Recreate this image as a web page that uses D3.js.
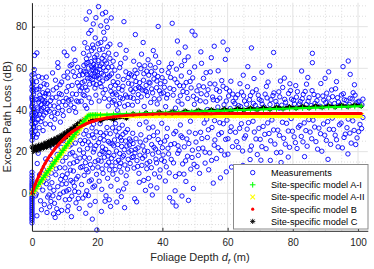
<!DOCTYPE html>
<html>
<head>
<meta charset="utf-8">
<script src="https://cdn.jsdelivr.net/npm/d3@7"></script>
<style>
  body { margin: 0; background: #fff; }
  svg { display: block; font-family: "Liberation Sans", Arial, sans-serif; }
</style>
</head>
<body>
<svg></svg>
<script>
// Messwerte [Foliage Depth (m), Excess Path Loss (dB)], aus dem Bild geschaetzt
const measurements = [
  [0,-14.2],[0,-13],[0,-12.1],[0,-11.3],[0,-10.2],[0,-9.4],[0,-8.5],[0,-7.6],[0,-6.8],[0,-5.9],[0,-5],[0,-4.1],[0,-3.2],
  [0,-2.4],[0,-1.5],[0,-0.6],[0,0.3],[0,1.2],[0,2.1],[0,3],[0,3.9],[0,4.8],[0,5.9],[0,7.2],[0,8.6],[0,10.1],
  [0,25.5],[0.3,28.1],[0,30.4],[0.5,32.2],[0,34.8],[0.2,36.1],[0,38.5],[0.4,40.2],[0,42.1],[0.1,44.6],[0,46.3],[0.3,48.8],
  [0,51.2],[0.2,53.5],[0,56.8],[0.6,57.3],[0.8,66.2],[1.5,67.4],[1.2,45.1],[1.6,41.3],[1.1,38.2],[2.1,43.7],[2.4,47.2],
  [2.8,39.6],[1.9,35.4],[3.2,44.8],[3.5,41.2],[2.6,51.3],[1.4,49.8],[3.9,46.5],[4.3,38.7],[4.6,43.1],[3.1,36.2],[2.2,31.5],
  [1.7,28.4],[3.4,30.1],[4.1,33.3],[4.8,49.2],[0.9,33.6],[1.3,26.9],[2.7,34.4],[3.7,52.6],[4.4,55.8],[2.0,56.1],[0.7,37.1],
  [1.8,40.5],[2.9,42.6],[4.0,44.2],[3.3,48.3],[0.4,50.1],
  [0.2,27.3],[0,29.1],[0.5,31.4],[0,33.2],[0.3,35.6],[0,37.4],[0.6,39.1],[0,41.3],[0.2,43.2],[0,45.4],[0.5,47.6],[0,49.5],
  [0.3,52.3],[0,54.4],[1.0,29.8],[1.2,34.1],[1.5,37.6],[1.8,44.9],[2.3,37.9],[2.5,45.6],[3.0,40.4],[3.6,37.5],[3.8,43.4],
  [4.2,47.8],[4.7,40.2],[2.1,50.1],[1.4,53.6],[3.1,55.4],[4.5,52.1],[0.7,59.4],
  [1.1,-1.2],[1.3,-0.3],[1.5,-10.8],[2.2,3.1],[2.6,-3.6],[3.3,1.5],[3.8,-5.4],[4.4,4.6],[1.6,14.3],[2.3,8.8],[3.6,11.2],
  [4.2,16.5],[4.8,-1.8],[4.9,7.3],[1.9,19.2],
  [5.2,-0.8],[5.5,2.6],[5.8,-3.9],[6.1,5.1],[6.4,-1.2],[6.7,1.4],[7.1,-11.6],[7.3,8.9],[7.6,-7.4],[7.9,3.2],[8.2,-2.1],
  [8.5,12.3],[8.8,6.7],[9.1,-8.2],[9.4,15.4],[9.7,0.6],[5.4,-6.5],[6.2,13.8],[7.7,18.6],[8.9,22.1],[9.6,25.3],[6.9,-4.8],
  [8.1,-9.3],[9.2,4.4],[5.9,9.7],
  [2.9,-7.9],[3.5,5.6],[4.6,-9.2],[5.7,16.3],[6.6,-9.9],[7.4,11.7],[8.6,-0.4],[9.3,8.5],[10.6,1.1],[11.5,-2.9],[12.8,14.6],
  [13.6,6.9],[14.2,-2.5],[14.7,16.9],[10.3,7.4],[11.7,18.9],[13.1,0.9],[12.0,23.4],[9.0,19.8],[6.3,21.7],
  [5.3,39.4],[5.7,44.5],[6.0,36.8],[6.5,49.6],[6.8,41.9],[7.2,54.3],[7.4,46.1],[7.8,38.3],[8.3,43.7],[8.6,52.1],[9.0,47.4],
  [9.3,39.8],[9.8,56.2],[5.6,33.1],[6.6,31.4],[7.0,35.6],[8.0,60.4],[8.7,34.2],[9.5,44.1],[6.3,57.8],[5.1,47.7],
  [5.5,42.1],[6.2,45.8],[6.9,38.9],[7.5,50.7],[8.1,41.2],[8.4,47.9],[9.1,53.4],[9.6,37.3],[10.5,45.6],[11.1,51.3],
  [11.9,42.4],[12.4,47.7],[13.1,56.1],[13.7,44.3],[14.4,51.5],[14.9,58.9],[12.2,61.8],[10.9,58.2],[7.9,62.7],[9.9,67.8],
  [10.2,-3.1],[10.5,4.6],[10.8,9.3],[11.1,-6.2],[11.3,1.8],[11.6,14.1],[11.9,6.2],[12.2,-1.4],[12.4,19.6],[12.7,10.7],
  [13.0,3.4],[13.3,24.1],[13.5,-4.6],[13.8,15.3],[14.1,8.1],[14.3,0.5],[14.6,20.8],[14.9,12.4],[10.4,17.2],[11.4,22.6],
  [12.9,27.3],[13.9,28.8],[10.9,-8.4],[12.1,-11.2],[14.5,-7.3],[11.8,11.1],[13.2,17.9],[14.8,25.4],[10.1,12.2],[12.5,5.3],
  [10.3,42.3],[10.6,48.9],[11.0,55.4],[11.4,39.7],[11.7,61.2],[12.0,45.1],[12.3,51.8],[12.6,58.4],[12.9,41.2],[13.2,63.8],
  [13.6,47.5],[13.9,53.1],[14.2,43.9],[14.5,56.6],[14.8,49.3],[10.7,66.1],[12.8,69.3],[14.0,60.5],[11.2,44.7],[13.4,38.9],
  [15.1,44.2],[15.3,50.6],[15.5,56.9],[15.7,47.3],[15.9,61.4],[16.1,53.8],[16.3,42.1],[16.5,58.2],[16.7,64.6],[16.9,49.5],
  [17.1,55.3],[17.3,60.1],[17.5,45.8],[17.7,52.4],[17.9,57.7],[18.1,63.2],[18.3,68.5],[18.5,54.6],[18.7,59.3],[18.9,61.8],
  [19.1,56.1],[19.3,63.9],[19.5,58.7],[19.7,52.2],[19.9,66.4],[16.2,72.3],[17.4,76.8],[18.6,71.2],[19.4,74.6],[17.6,87.1],
  [16.8,40.8],[18.2,43.6],[19.6,47.1],[15.8,67.2],[18.8,81.3],[17.0,69.8],[19.0,60.2],[18.4,57.1],[16.6,62.3],[19.8,55.9],
  [15.4,53.2],[15.9,58.6],[16.4,50.9],[16.9,57.1],[17.2,62.8],[17.8,55.1],[18.3,60.7],[18.8,52.9],[19.2,65.3],[19.7,61.2],
  [20.2,56.6],[20.8,59.4],[21.4,62.1],[21.9,56.8],[22.4,63.6],[22.9,55.1],[23.4,60.4],[23.9,64.8],[24.4,57.3],[24.9,53.6],
  [17.5,66.3],[18.9,69.7],[20.3,71.8],[21.7,69.2],[23.2,70.4],[16.1,46.9],[19.3,50.5],[22.2,45.6],[24.2,48.9],[20.9,52.8],
  [18.1,78.2],[19.6,84.3],[22.6,86.9],[16.6,83.6],[21.1,80.4],
  [15.2,4.2],[15.4,12.8],[15.6,-2.3],[15.8,19.4],[16.0,8.6],[16.2,25.3],[16.4,14.7],[16.6,30.1],[16.8,1.2],[17.0,21.5],
  [17.2,10.3],[17.4,27.6],[17.6,16.9],[17.8,-5.7],[18.0,23.2],[18.2,6.4],[18.4,31.4],[18.6,12.1],[18.8,19.8],[19.0,26.7],
  [19.2,3.5],[19.4,15.2],[19.6,22.9],[19.8,9.1],[16.5,-9.6],[18.5,-12.4],[19.9,-17.6],[17.3,-1.1],[15.9,28.4],[18.9,33.2],
  [15.5,23.8],[16.1,17.3],[16.7,11.4],[17.3,24.6],[17.9,13.8],[18.5,28.1],[19.1,21.2],[19.7,29.5],[20.3,15.9],[20.9,26.3],
  [21.5,11.7],[22.1,19.8],[22.7,28.9],[23.3,17.9],[23.9,24.1],[24.5,13.2],[25.1,22.8],[25.7,14.9],[26.3,27.6],[26.9,12.8],
  [27.5,25.4],[28.1,18.1],[28.7,29.3],[29.3,11.6],[29.9,23.2],[16.4,-0.8],[18.7,2.9],[21.3,-8.7],[23.7,-3.1],[26.5,1.1],
  [28.4,-6.9],[19.4,-3.9],[24.7,31.4],[27.7,32.7],[17.6,5.8],
  [20.1,58.3],[20.3,63.7],[20.5,55.2],[20.7,68.9],[20.9,61.1],[21.1,72.4],[21.3,57.6],[21.5,64.8],[21.7,53.9],[21.9,60.3],
  [22.1,66.2],[22.3,74.1],[22.5,49.8],[22.7,58.9],[22.9,62.5],[23.1,79.6],[23.3,55.7],[23.5,67.3],[23.7,45.2],[23.9,71.6],
  [24.1,51.3],[24.3,84.2],[24.5,60.8],[24.7,47.6],[24.9,63.4],[20.4,89.6],[21.6,86.1],[22.8,82.7],[20.6,44.3],[21.8,48.1],
  [23.4,41.9],[24.6,43.7],[22.0,77.3],[21.2,51.2],[23.8,56.4],
  [20.2,12.6],[20.4,24.3],[20.6,5.8],[20.8,18.7],[21.0,29.1],[21.2,15.4],[21.4,1.9],[21.6,22.2],[21.8,9.6],[22.0,27.8],
  [22.2,17.3],[22.4,-3.8],[22.6,21.1],[22.8,13.5],[23.0,31.6],[23.2,7.2],[23.4,24.9],[23.6,19.6],[23.8,11.3],[24.0,28.6],
  [24.2,3.4],[24.4,16.8],[24.6,23.7],[24.8,9.2],[20.9,33.4],[22.7,-1.2],[24.1,-6.3],[21.5,20.1],[23.5,14.9],[22.1,25.5],
  [25.2,44.6],[25.6,51.9],[26.0,47.3],[26.4,56.2],[26.8,43.1],[27.2,62.4],[27.6,49.5],[28.0,54.7],[28.4,41.8],[28.8,58.3],
  [29.2,46.2],[29.6,52.8],[25.8,66.7],[27.0,71.3],[28.6,64.9],[29.9,57.4],[26.2,39.9],[27.8,45.4],[29.4,42.6],[25.4,59.1],
  [28.2,82.4],[26.6,50.3],
  [25.5,48.2],[26.3,53.1],[27.1,45.9],[27.9,51.4],[28.7,47.2],[29.5,55.6],[30.3,49.8],[31.1,45.6],[31.9,53.7],[32.7,50.9],
  [33.5,46.3],[34.3,57.4],[35.1,48.8],[35.9,53.3],[36.7,50.1],[37.5,45.4],[38.3,53.9],[39.1,49.2],[39.9,55.5],[30.5,56.8],
  [32.9,61.7],[34.7,49.3],[36.3,61.5],[38.9,62.8],[26.9,60.3],[28.9,68.6],[34.1,72.4],[31.7,76.2],[37.9,65.9],[25.9,42.4],
  [25.1,18.2],[25.3,25.6],[25.5,11.4],[25.7,29.8],[25.9,20.3],[26.1,6.7],[26.3,23.4],[26.5,15.8],[26.7,31.2],[26.9,19.1],
  [27.1,26.8],[27.3,10.2],[27.5,22.5],[27.7,17.4],[27.9,28.3],[28.1,2.1],[28.3,20.9],[28.5,13.6],[28.7,25.1],[28.9,8.4],
  [29.1,22.7],[29.3,30.6],[29.5,16.3],[29.7,19.8],[29.9,26.1],[26.0,-4.2],[27.4,-1.6],[28.8,4.8],[25.6,33.5],[27.2,14.6],
  [30.2,46.1],[30.6,52.4],[31.0,48.7],[31.4,55.9],[31.8,50.2],[32.2,57.6],[32.6,47.4],[33.0,53.1],[33.4,59.8],[33.8,49.6],
  [34.2,54.3],[34.6,61.2],[35.0,51.8],[35.4,46.9],[35.8,56.7],[36.2,52.9],[36.6,58.4],[37.0,48.2],[37.4,54.9],[37.8,60.3],
  [38.2,50.7],[38.6,56.1],[39.0,45.3],[39.4,52.6],[39.8,58.9],[31.2,63.4],[33.6,66.8],[35.6,64.1],[37.2,68.5],[38.7,80.1],
  [30.8,42.3],[32.4,44.1],[34.4,41.7],[36.4,43.6],[38.4,42.9],[39.6,47.8],[35.2,58.6],[33.2,50.5],[31.6,59.1],[37.6,57.2],
  [30.1,14.3],[30.4,20.6],[30.7,17.2],[31.0,23.9],[31.3,12.1],[31.6,19.4],[31.9,26.2],[32.2,15.7],[32.5,21.8],[32.8,9.6],
  [33.1,18.3],[33.4,28.1],[33.7,13.4],[34.0,22.7],[34.3,6.2],[34.6,17.9],[34.9,25.5],[35.2,11.8],[35.5,20.1],[35.8,31.3],
  [36.1,15.2],[36.4,3.6],[36.7,23.4],[37.0,18.8],[37.3,27.7],[37.6,9.3],[37.9,21.2],[38.2,14.6],[38.5,29.4],[38.8,19.7],
  [39.1,7.8],[39.4,24.3],[39.7,16.1],[31.5,-2.6],[32.1,-4.1],[34.8,1.4],[36.9,-0.8],[33.0,33.1],[35.0,34.2],[30.9,28.8],
  [30.3,25.1],[31.1,17.6],[31.8,21.1],[32.4,12.9],[33.2,24.6],[33.9,16.8],[34.5,20.4],[35.3,14.4],[36.0,26.9],[36.6,12.3],
  [37.4,22.1],[38.0,16.4],[38.7,25.8],[39.3,11.2],[40.0,21.9],[40.6,15.3],[41.3,27.2],[41.9,18.9],[42.6,23.4],[43.4,14.6],
  [44.1,29.7],[44.8,22.8],[32.9,5.3],[35.7,7.1],[38.3,2.6],[40.9,5.9],[43.9,1.2],[37.1,31.8],[39.8,33.6],[42.1,9.8],
  [40.3,48.2],[40.8,53.6],[41.3,45.7],[41.8,57.9],[42.3,50.4],[42.8,62.3],[43.3,47.1],[43.8,54.8],[44.3,59.6],[44.8,44.2],
  [45.3,51.7],[45.8,56.3],[46.3,48.9],[46.8,63.7],[47.3,53.2],[47.8,45.5],[48.3,58.1],[48.8,50.6],[49.3,55.4],[49.8,42.7],
  [43.0,81.6],[49.1,77.8],[50.0,75.9],[45.0,67.4],[47.0,70.2],[41.0,41.6],[44.0,40.9],[46.0,42.8],
  [40.6,50.9],[41.6,47.4],[42.5,55.6],[43.5,49.8],[44.5,53.1],[45.5,46.8],[46.5,51.5],[47.5,48.4],[48.5,53.7],[49.5,46.6],
  [50.6,49.2],[51.6,44.4],[52.6,51.1],[53.6,47.3],[54.6,52.6],[55.6,44.9],[56.6,49.8],[57.6,45.7],[58.6,51.4],[59.6,44.3],
  [60.6,49.1],[61.6,47.6],[42.1,60.4],[45.9,61.3],[49.9,60.7],[53.4,57.9],[57.1,58.8],[47.9,65.5],[51.8,67.9],[55.9,70.6],
  [44.6,73.1],[59.3,64.3],
  [40.2,18.4],[40.7,25.1],[41.2,12.7],[41.7,21.6],[42.2,-2.1],[42.7,16.3],[43.2,-4.2],[43.7,23.8],[44.2,-6.1],[44.7,19.2],
  [45.2,9.4],[45.7,27.6],[46.2,14.1],[46.7,22.3],[47.2,5.7],[47.7,17.8],[48.2,29.4],[48.7,11.6],[49.2,20.7],[49.7,13.9],
  [41.5,31.2],[43.5,28.6],[45.5,32.8],[47.5,26.1],[49.5,2.3],[44.0,8.1],[46.0,-1.3],[48.0,-3.4],
  [45.1,20.5],[46.1,26.8],[47.1,15.6],[48.1,23.9],[49.1,17.2],[50.1,28.7],[51.1,21.4],[52.1,26.3],[53.1,19.7],[54.1,30.5],
  [55.1,15.8],[56.1,25.6],[57.1,21.9],[58.1,29.1],[59.1,18.4],[60.1,26.2],[61.1,31.9],[46.6,9.2],[50.6,12.8],[55.6,4.9],
  [59.6,10.3],[48.6,34.6],[53.6,35.6],[57.6,33.9],
  [50.5,45.3],[51.2,51.6],[51.9,47.8],[52.6,55.2],[53.3,43.9],[54.0,49.7],[54.7,58.3],[55.4,46.2],[56.1,52.4],[56.8,44.6],
  [57.5,48.9],[58.2,54.1],[58.9,42.5],[59.6,50.3],[60.3,46.7],[61.0,53.8],[61.7,44.1],[52.0,62.4],[55.0,65.1],[58.6,72.6],
  [60.0,68.9],[53.8,40.2],[57.0,41.4],[60.8,40.7],
  [50.3,24.6],[51.0,18.2],[51.7,29.3],[52.4,21.7],[53.1,14.5],[53.8,26.8],[54.5,19.4],[55.2,31.6],[55.9,23.1],[56.6,16.7],
  [57.3,28.2],[58.0,20.5],[58.7,33.4],[59.4,25.9],[60.1,18.8],[60.8,29.7],[61.5,22.4],[51.4,9.6],[54.2,11.3],[57.8,7.4],
  [61.2,12.6],[56.0,34.9],[52.8,33.7],[59.8,35.1],
  [62.5,45.8],[63.4,42.1],[64.3,48.6],[65.2,44.3],[66.1,51.2],[67.0,46.9],[67.9,43.2],[68.8,49.7],[69.7,45.1],[70.6,42.8],
  [71.5,47.6],[72.4,53.4],[73.3,44.9],[74.2,48.2],[75.1,42.4],[76.0,46.3],[76.9,50.8],[77.8,43.7],[78.7,47.9],[79.6,45.2],
  [80.5,42.9],[81.4,48.8],[67.3,69.8],[74.1,67.6],[70.5,58.1],[77.4,55.3],[64.8,56.7],[72.9,61.2],[79.1,52.6],[69.2,40.6],
  [75.8,40.9],
  [62.2,43.1],[63.1,47.3],[64.0,41.6],[64.9,46.8],[65.8,42.7],[66.7,44.9],[67.6,48.6],[68.5,42.2],[69.4,47.1],[70.3,44.5],
  [71.2,41.4],[72.1,45.8],[73.0,42.6],[73.9,46.9],[74.8,44.1],[75.7,48.7],[76.6,42.3],[77.5,45.1],[78.4,41.5],[79.3,49.3],
  [80.2,44.6],[81.1,46.2],[82.0,42.9],[82.9,45.4],[83.8,48.9],[84.7,44.2],[85.6,42.1],[86.5,47.4],[87.4,44.5],[88.3,41.8],
  [89.2,46.7],[90.1,43.6],[91.0,45.7],[91.9,49.6],[92.8,43.1],[93.7,45.9],[94.6,42.4],[95.5,47.8],[96.4,44.6],[97.3,42.7],
  [98.2,45.3],[99.1,47.1],[100.0,43.8],[101.5,45.2],[63.8,52.6],[68.1,55.1],[71.9,51.3],[76.2,53.9],[80.9,51.7],[84.2,52.4],
  [89.9,55.2],[93.4,53.6],[98.9,52.1],[66.2,60.8],[82.7,58.7],
  [62.8,24.8],[63.7,31.2],[64.6,20.3],[65.5,27.6],[66.4,33.9],[67.3,22.7],[68.2,29.4],[69.1,18.6],[70.0,25.9],[70.9,32.1],
  [71.8,21.4],[72.7,28.7],[73.6,35.2],[74.5,23.6],[75.4,30.3],[76.3,19.7],[77.2,26.4],[78.1,33.6],[79.0,22.1],[79.9,29.8],
  [80.8,24.3],[81.7,31.7],[66.9,16.2],[73.1,15.8],[78.6,17.4],
  [62.4,29.3],[63.3,22.1],[64.2,33.4],[65.1,26.5],[66.0,30.8],[66.9,20.7],[67.8,34.6],[68.7,26.1],[69.6,31.2],[70.5,22.4],
  [71.4,28.3],[72.3,33.8],[73.2,25.2],[74.1,30.4],[75.0,19.5],[75.9,27.8],[76.8,34.1],[77.7,23.6],[78.6,29.9],[79.5,35.9],
  [80.4,27.1],[81.3,21.5],[82.2,32.6],[83.1,24.7],[84.0,30.1],[84.9,35.4],[85.8,26.2],[86.7,31.8],[87.6,21.2],[88.5,28.6],
  [89.4,33.3],[90.3,25.4],[91.2,30.7],[92.1,36.1],[93.0,27.9],[93.9,22.3],[94.8,33.7],[95.7,26.8],[96.6,31.5],[97.5,28.9],
  [98.4,34.8],[99.3,23.4],[100.2,29.6],[101.1,31.1],[70.2,15.9],[76.4,14.8],[83.6,17.6],[90.8,16.3],[96.9,18.9],[64.7,13.4],
  [82.3,44.1],[83.2,47.5],[84.1,42.6],[85.0,45.9],[85.9,49.3],[86.8,43.2],[87.7,46.8],[88.6,52.7],[89.5,44.7],[90.4,48.1],
  [91.3,42.9],[92.2,46.4],[93.1,50.2],[94.0,43.8],[94.9,47.2],[95.8,44.9],[96.7,41.9],[97.6,45.6],[98.5,48.3],[99.4,43.4],
  [100.3,44.2],[101.2,42.5],[86.0,62.7],[91.0,58.3],[95.4,60.8],[84.6,55.6],[86.0,67.2],[97.0,63.5],[97.6,57.1],
  [82.6,27.3],[83.5,33.8],[84.4,22.6],[85.3,29.4],[86.2,35.1],[87.1,24.8],[88.0,31.3],[88.9,20.2],[89.8,27.9],[90.7,34.4],
  [91.6,23.5],[92.5,30.6],[93.4,25.7],[94.3,32.9],[95.2,21.8],[96.1,28.4],[97.0,35.6],[97.9,24.1],[98.8,30.2],[99.7,26.6],
  [100.6,33.1],[101.5,36.4]
];

// Stuetzstellen der Modelle (Foliage Depth in m)
const modelX = [
  0,0.5,1,1.5,2,2.5,3,3.5,4,4.5,5,5.5,6,6.5,7,7.5,8,8.5,9,9.5,10,10.5,11,11.5,12,12.5,13,13.5,14,14.5,
  15,15.5,16,16.5,17,17.5,18,18.5,19,19.5,20,
  21,23,25,27,29,31,33,35,37,39,41,43,45,47,49,51,53,55,57,59,61,63,65,67,69,71,73,75,77,79,
  81,83,85,87,89,91,93,95,97,99,101
];
const modelAI = [
  0,1.1,2.2,3.3,4.3,5.4,6.5,7.6,8.7,9.8,10.9,11.9,13.0,14.1,15.2,16.3,17.4,18.4,19.5,20.6,21.7,22.8,23.9,25.0,26.0,27.1,
  28.2,29.3,30.4,31.5,32.6,33.6,34.7,35.8,36.9,37.5,37.5,37.6,37.6,37.6,37.6,
  37.7,37.8,37.9,38.0,38.1,38.2,38.3,38.4,38.5,38.6,38.7,38.8,38.9,39.0,39.2,39.3,39.4,39.5,39.6,39.7,
  39.8,39.9,40.0,40.1,40.2,40.3,40.4,40.5,40.6,40.7,40.8,40.9,41.0,41.1,41.2,41.3,41.4,41.5,41.6,41.7,41.8
];
const modelAII = [
  0,1.1,2.1,3.2,4.3,5.4,6.4,7.5,8.6,9.6,10.7,11.8,12.8,13.9,15.0,16.1,17.1,18.2,19.3,20.3,21.4,22.5,23.5,24.6,25.7,26.8,
  27.8,28.9,30.0,31.0,32.1,33.2,34.2,35.3,36.4,37.0,37.2,37.2,37.2,37.2,37.2,
  37.2,37.2,37.2,37.2,37.2,37.2,37.2,37.2,37.2,37.2,37.2,37.2,37.2,37.2,37.2,37.2,37.2,37.2,37.2,37.2,
  37.2,37.2,37.2,37.2,37.2,37.2,37.2,37.2,37.2,37.2,37.2,37.2,37.2,37.2,37.2,37.2,37.2,37.2,37.2,37.2,37.2
];
const modelB = [
  0,2.2,4.3,6.2,8.0,9.7,11.3,12.9,14.3,15.7,16.9,18.1,19.2,20.3,21.3,22.3,23.2,24.1,24.9,25.7,26.5,27.2,27.9,28.5,29.1,
  29.7,30.2,30.7,31.2,31.7,32.1,32.5,32.9,33.3,33.6,33.9,34.2,34.5,34.7,35.0,35.2,
  35.6,36.2,36.7,37.1,37.4,37.6,37.8,37.9,38.0,38.1,38.1,38.1,38.2,38.2,38.2,38.2,38.2,38.2,38.3,38.3,
  38.3,38.3,38.3,38.3,38.3,38.3,38.3,38.3,38.3,38.3,38.3,38.3,38.3,38.3,38.3,38.3,38.3,38.3,38.3,38.3,38.3
];
const modelC = [
  22.2,20.1,22.6,20.4,23.1,21.0,23.5,21.6,24.2,22.0,24.9,22.7,25.6,23.4,26.3,24.1,27.1,25.0,28.0,25.9,29.0,26.9,30.0,
  28.0,31.1,29.1,32.3,30.4,33.5,31.6,34.6,32.8,35.5,33.9,36.2,34.6,36.7,35.2,37.0,35.6,37.1,
  34.8,36.1,35.4,36.6,36.0,38.2,37.3,38.6,37.7,39.0,38.1,39.3,38.4,39.6,38.7,39.9,39.0,40.2,39.3,40.5,
  39.6,40.8,39.9,41.0,40.1,41.2,40.3,41.4,40.6,41.6,40.8,41.8,41.0,42.0,41.2,42.1,41.4,42.3,41.6,42.4,41.8
];

const xTicks = [0, 20, 40, 60, 80, 100];
const yTicks = [0, 20, 40, 60, 80];
const legendLabels = [
  "Measurements",
  "Site-specific model A-I",
  "Site-specific model A-II",
  "Site-specific model B",
  "Site-specific model C"
];

const svgWidth = 374;
const svgHeight = 269;
const margin = { top: 2.7, right: 6.2, bottom: 38.2, left: 32 };

let svg = d3.select("svg").attr("width", svgWidth).attr("height", svgHeight);

let scaleX = d3.scaleLinear().domain([0, 103]).range([margin.left, svgWidth - margin.right]);
let scaleY = d3.scaleLinear().domain([-18, 91.5]).range([svgHeight - margin.bottom, margin.top]);

const x0 = scaleX.range()[0], x1 = scaleX.range()[1];
const y0 = scaleY.range()[0], y1 = scaleY.range()[1];

// Gitter: minor (gepunktet) und major (durchgezogen)
let grid = svg.append("g");
grid.selectAll(".minor-x")
  .data(d3.range(5, 103, 5).filter((v) => v % 20 != 0))
  .enter().append("line")
  .attr("x1", (d) => scaleX(d)).attr("x2", (d) => scaleX(d))
  .attr("y1", y0).attr("y2", y1)
  .attr("stroke", "#d4d4d4").attr("stroke-width", 0.8).attr("stroke-dasharray", "1,2");
grid.selectAll(".minor-y")
  .data(d3.range(-15, 91.5, 5).filter((v) => v % 20 != 0))
  .enter().append("line")
  .attr("y1", (d) => scaleY(d)).attr("y2", (d) => scaleY(d))
  .attr("x1", x0).attr("x2", x1)
  .attr("stroke", "#d4d4d4").attr("stroke-width", 0.8).attr("stroke-dasharray", "1,2");
grid.selectAll(".major-x")
  .data(xTicks)
  .enter().append("line")
  .attr("x1", (d) => scaleX(d)).attr("x2", (d) => scaleX(d))
  .attr("y1", y0).attr("y2", y1)
  .attr("stroke", "#e3e3e3").attr("stroke-width", 1);
grid.selectAll(".major-y")
  .data(yTicks)
  .enter().append("line")
  .attr("y1", (d) => scaleY(d)).attr("y2", (d) => scaleY(d))
  .attr("x1", x0).attr("x2", x1)
  .attr("stroke", "#e3e3e3").attr("stroke-width", 1);

// Marker-Pfade
function plusPath(s) {
  return `M${-s},0H${s}M0,${-s}V${s}`;
}
function crossPath(s) {
  return `M${-s},${-s}L${s},${s}M${-s},${s}L${s},${-s}`;
}
function starPath(s) {
  let d = s * 0.72;
  return plusPath(s) + crossPath(d);
}

// Messpunkte
svg.append("g")
  .selectAll("circle")
  .data(measurements)
  .enter().append("circle")
  .attr("cx", (d) => scaleX(d[0]))
  .attr("cy", (d) => scaleY(d[1]))
  .attr("r", 2.2)
  .attr("fill", "none")
  .attr("stroke", "#0000ff")
  .attr("stroke-width", 0.9);

// Modelle: dichtes Band (Linie) plus Marker
function modelBand(values, color, width) {
  let line = d3.line()
    .x((d) => scaleX(d))
    .y((d, i) => scaleY(values[i]));
  svg.append("path")
    .attr("d", line(modelX))
    .attr("fill", "none")
    .attr("stroke", color)
    .attr("stroke-width", width)
    .attr("stroke-linejoin", "round");
}
function modelMarkers(values, shape, color, width) {
  svg.append("g")
    .selectAll("path")
    .data(modelX)
    .enter().append("path")
    .attr("transform", (d, i) => `translate(${scaleX(d)},${scaleY(values[i])})`)
    .attr("d", shape)
    .attr("fill", "none")
    .attr("stroke", color)
    .attr("stroke-width", width);
}

// Modell C (schwarz) liegt unter den anderen Modellen
modelBand(modelC, "#000", 3);
modelMarkers(modelC, starPath(2.6), "#000", 0.9);

modelBand(modelAII, "#ffff00", 4.6);
modelMarkers(modelAII, crossPath(2.6), "#ffff00", 1.1);

modelBand(modelAI, "#00ff00", 2.2);
modelMarkers(modelAI, plusPath(2.8), "#00ff00", 1);

modelBand(modelB, "#ff0000", 2.8);
svg.append("g")
  .selectAll("circle")
  .data(modelX)
  .enter().append("circle")
  .attr("cx", (d) => scaleX(d))
  .attr("cy", (d, i) => scaleY(modelB[i]))
  .attr("r", 1.6)
  .attr("fill", "#ff0000");

// Achsen
let xAxis = svg.append("g")
  .attr("transform", `translate(0,${y0})`)
  .call(d3.axisBottom(scaleX).tickValues(xTicks).tickSizeInner(-3).tickSizeOuter(0).tickPadding(8));
let yAxis = svg.append("g")
  .attr("transform", `translate(${x0},0)`)
  .call(d3.axisLeft(scaleY).tickValues(yTicks).tickSizeInner(-3).tickSizeOuter(0).tickPadding(5));

[xAxis, yAxis].forEach((ax) => {
  ax.select(".domain").attr("stroke", "#262626");
  ax.selectAll(".tick line").attr("stroke", "#262626");
  ax.selectAll(".tick text")
    .attr("fill", "#262626")
    .style("font-size", "10px")
    .style("font-family", '"Liberation Sans", Arial, sans-serif');
});

// Achsenbeschriftungen
let xLabel = svg.append("text")
  .attr("x", (x0 + x1) / 2)
  .attr("y", 261)
  .attr("text-anchor", "middle")
  .attr("fill", "#262626")
  .style("font-size", "11px");
xLabel.append("tspan").text("Foliage Depth ");
xLabel.append("tspan").style("font-style", "italic").text("d");
xLabel.append("tspan").style("font-style", "italic").style("font-size", "8px").attr("dy", 2.5).text("f");
xLabel.append("tspan").attr("dy", -2.5).text(" (m)");

svg.append("text")
  .attr("transform", `translate(10.5,${(y0 + y1) / 2}) rotate(-90)`)
  .attr("text-anchor", "middle")
  .attr("fill", "#262626")
  .style("font-size", "11px")
  .text("Excess Path Loss (dB)");

// Legende
let legend = svg.append("g");
legend.append("rect")
  .attr("x", 233.5).attr("y", 164.5)
  .attr("width", 134.5).attr("height", 64.5)
  .attr("fill", "#fff")
  .attr("stroke", "#8a8a8a")
  .attr("stroke-width", 1);

let entries = legend.selectAll(".entry")
  .data(legendLabels)
  .enter().append("g")
  .attr("transform", (d, i) => `translate(252.7,${172.6 + i * 12.2})`);

entries.each(function (d, i) {
  let g = d3.select(this);
  if (i == 0) {
    g.append("circle").attr("r", 2.2).attr("fill", "none").attr("stroke", "#0000ff").attr("stroke-width", 0.9);
  } else if (i == 1) {
    g.append("path").attr("d", plusPath(2.8)).attr("stroke", "#00ff00").attr("stroke-width", 1);
  } else if (i == 2) {
    g.append("path").attr("d", crossPath(2.3)).attr("stroke", "#ffff00").attr("stroke-width", 1.1);
  } else if (i == 3) {
    g.append("circle").attr("r", 1.6).attr("fill", "#ff0000");
  } else {
    g.append("path").attr("d", starPath(2.6)).attr("stroke", "#000").attr("stroke-width", 0.9);
  }
  g.append("text")
    .attr("x", 18.3)
    .attr("y", 3.3)
    .attr("fill", "#000")
    .style("font-size", "9.2px")
    .text(d);
});
</script>
</body>
</html>
